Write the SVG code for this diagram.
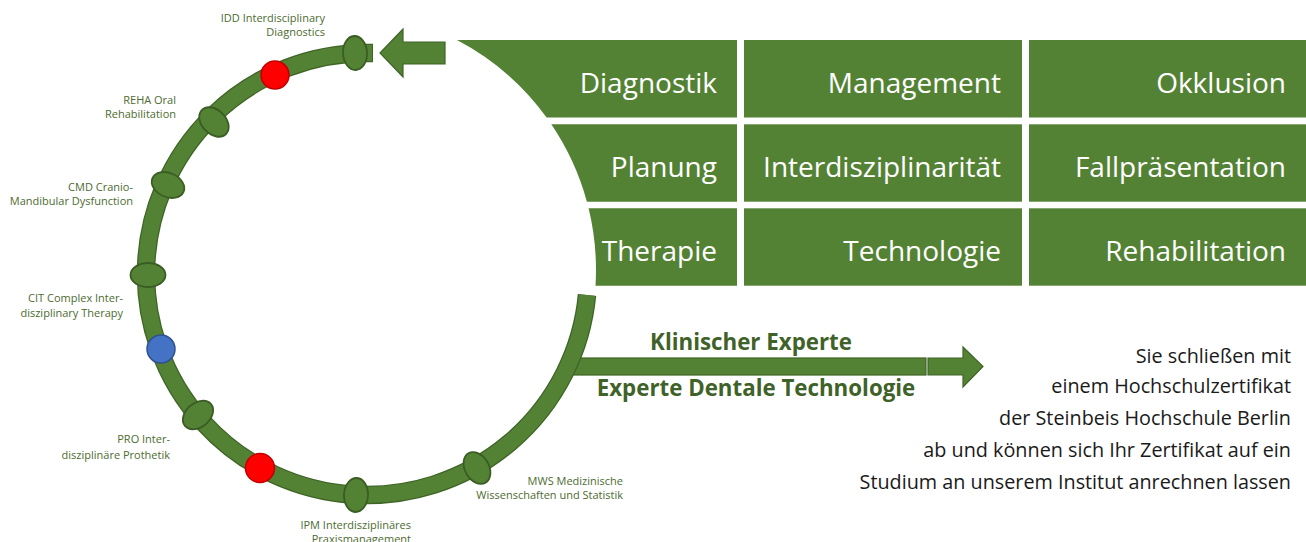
<svg xmlns="http://www.w3.org/2000/svg" width="1306" height="542" viewBox="0 0 1306 542">
<style>
.cell{fill:#548235}
.ct{font-family:"Open Sans","Noto Sans",sans-serif;font-size:28px;fill:#ffffff;text-anchor:end}
.lbl{font-family:"Open Sans","Noto Sans",sans-serif;font-size:11px;fill:#4d6b30;text-anchor:end}
.bold{font-family:"Open Sans","Noto Sans",sans-serif;font-size:22.3px;font-weight:bold;fill:#3f6229;text-anchor:middle}
.body{font-family:"Open Sans","Noto Sans",sans-serif;font-size:19.8px;fill:#1a1a1a;text-anchor:end}
.node{fill:#548235;stroke:#3a5d23;stroke-width:1.8}
.arrow{fill:#548235;stroke:#3e6426;stroke-width:1.2}
.red{fill:#ff0000;stroke:#c00000;stroke-width:1.5}
.blue{fill:#4472c4;stroke:#2f528f;stroke-width:1.5}
</style>
<rect width="1306" height="542" fill="#ffffff"/>

<g id="grid">
  <g id="cell-diagnostik"><path class="cell" d="M457,40 L737,40 L737,117.5 L546.6,117.5 A260 260 0 0 0 457,40 Z"/><text class="ct" x="717" y="93">Diagnostik</text></g>
  <g id="cell-management"><rect class="cell" x="744" y="40" width="278" height="77.5"/><text class="ct" x="1001" y="93">Management</text></g>
  <g id="cell-okklusion"><rect class="cell" x="1029" y="40" width="277" height="77.5"/><text class="ct" x="1286" y="93">Okklusion</text></g>
  <g id="cell-planung"><path class="cell" d="M551.3,124.3 L737,124.3 L737,201.7 L586.9,201.7 A260 260 0 0 0 551.3,124.3 Z"/><text class="ct" x="717" y="177">Planung</text></g>
  <g id="cell-interdisziplinaritaet"><rect class="cell" x="744" y="124.3" width="278" height="77.4"/><text class="ct" x="1001" y="177">Interdisziplinarität</text></g>
  <g id="cell-fallpraesentation"><rect class="cell" x="1029" y="124.3" width="277" height="77.4"/><text class="ct" x="1286" y="177">Fallpräsentation</text></g>
  <g id="cell-therapie"><path class="cell" d="M588.6,208.3 L737,208.3 L737,285.7 L595.5,285.7 A260 260 0 0 0 588.6,208.3 Z"/><text class="ct" x="717" y="261">Therapie</text></g>
  <g id="cell-technologie"><rect class="cell" x="744" y="208.3" width="278" height="77.4"/><text class="ct" x="1001" y="261">Technologie</text></g>
  <g id="cell-rehabilitation"><rect class="cell" x="1029" y="208.3" width="277" height="77.4"/><text class="ct" x="1286" y="261">Rehabilitation</text></g>
</g>

<g id="connectors">
  <path id="arrow-in" class="arrow" d="M380,53 L403,29 L403,42 L445,42 L445,64 L403,64 L403,77 Z"/>
  <rect id="shaft" class="arrow" x="572" y="358" width="354" height="17"/>
  <path id="arrow-out" class="arrow" d="M928,358 L963,358 L963,347 L983,366.5 L963,387 L963,375 L928,375 Z"/>
  <path id="ring-outline" d="M373,53 L367,53 A221 221 0 1 0 587,295" fill="none" stroke="#3e6426" stroke-width="18.5"/>
  <path id="ring" d="M372,53 L367,53 A221 221 0 1 0 587,295" fill="none" stroke="#548235" stroke-width="16"/>
</g>

<g id="node-idd"><ellipse class="node" cx="355" cy="53" rx="17" ry="12" transform="rotate(-93 355 53)"/><text class="lbl" x="325" y="22">IDD Interdisciplinary</text><text class="lbl" x="325" y="36">Diagnostics</text></g>
<g id="node-red1"><circle class="red" cx="275" cy="75" r="14"/></g>
<g id="node-reha"><ellipse class="node" cx="214" cy="122" rx="17" ry="12" transform="rotate(-135 214 122)"/><text class="lbl" x="176" y="104">REHA Oral</text><text class="lbl" x="176" y="118">Rehabilitation</text></g>
<g id="node-cmd"><ellipse class="node" cx="168" cy="185" rx="17" ry="12" transform="rotate(-156 168 185)"/><text class="lbl" x="133" y="191">CMD Cranio-</text><text class="lbl" x="133" y="205">Mandibular Dysfunction</text></g>
<g id="node-cit"><ellipse class="node" cx="148" cy="275" rx="17.5" ry="12" transform="rotate(180 148 275)"/><text class="lbl" x="123" y="302">CIT Complex Inter-</text><text class="lbl" x="123" y="317">disziplinary Therapy</text></g>
<g id="node-blue"><circle class="blue" cx="161" cy="349" r="14"/></g>
<g id="node-pro"><ellipse class="node" cx="198" cy="415" rx="17" ry="12" transform="rotate(140 198 415)"/><text class="lbl" x="170" y="443">PRO Inter-</text><text class="lbl" x="170" y="459">disziplinäre Prothetik</text></g>
<g id="node-red2"><circle class="red" cx="260" cy="468" r="14.5"/></g>
<g id="node-ipm"><ellipse class="node" cx="356" cy="495" rx="17" ry="12" transform="rotate(93 356 495)"/><text class="lbl" x="411" y="529">IPM Interdisziplinäres</text><text class="lbl" x="411" y="543">Praxismanagement</text></g>
<g id="node-mws"><ellipse class="node" cx="477" cy="468" rx="17" ry="12" transform="rotate(60 477 468)"/><text class="lbl" x="623" y="485">MWS Medizinische</text><text class="lbl" x="623" y="499">Wissenschaften und Statistik</text></g>

<g id="labels-outcome">
  <text class="bold" x="751" y="350">Klinischer Experte</text>
  <text class="bold" x="756" y="396">Experte Dentale Technologie</text>
</g>

<g id="text-certificate">
  <text class="body" x="1291" y="363">Sie schließen mit</text>
  <text class="body" x="1291" y="393">einem Hochschulzertifikat</text>
  <text class="body" x="1291" y="425">der Steinbeis Hochschule Berlin</text>
  <text class="body" x="1291" y="457">ab und können sich Ihr Zertifikat auf ein</text>
  <text class="body" x="1291" y="489">Studium an unserem Institut anrechnen lassen</text>
</g>
</svg>
